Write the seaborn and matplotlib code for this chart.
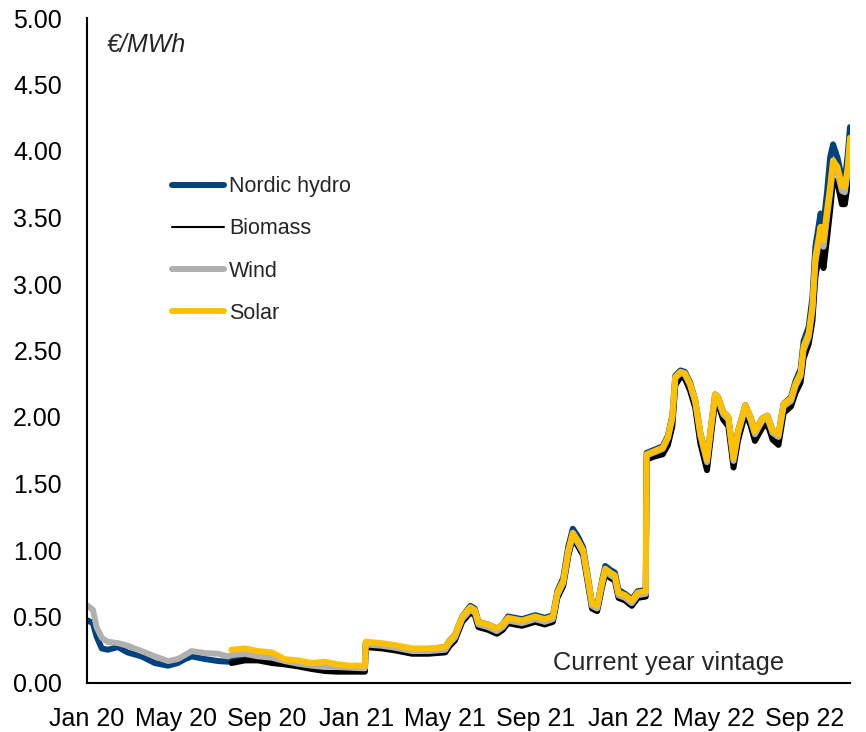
import pandas as pd
import seaborn as sns
import matplotlib.pyplot as plt
import matplotlib.dates as mdates
import matplotlib.ticker as mticker

# -----------------------------
# Data (EUR/MWh)
# -----------------------------
dates = [
    # 2020, before solar / biomass quotes
    "2020-01-02", "2020-01-09", "2020-01-14", "2020-01-21", "2020-01-29", "2020-02-12",
    "2020-02-25", "2020-03-15", "2020-04-02", "2020-04-20", "2020-05-03", "2020-05-13",
    "2020-05-22", "2020-06-09", "2020-06-27", "2020-07-10",
    # 2020 vintage, all four
    "2020-07-15", "2020-08-02", "2020-08-20", "2020-09-08", "2020-09-25", "2020-10-13",
    "2020-11-01", "2020-11-19", "2020-12-06", "2020-12-23", "2021-01-12",
    # 2021 vintage
    "2021-01-13", "2021-02-04", "2021-02-22", "2021-03-17", "2021-04-08", "2021-05-01",
    "2021-05-07", "2021-05-14", "2021-05-24", "2021-06-04", "2021-06-10", "2021-06-15",
    "2021-06-28", "2021-07-10", "2021-07-18", "2021-07-25", "2021-08-13", "2021-08-31",
    "2021-09-13", "2021-09-24", "2021-09-30", "2021-10-08", "2021-10-15", "2021-10-21",
    "2021-10-28", "2021-11-04", "2021-11-11", "2021-11-16", "2021-11-23", "2021-11-30",
    "2021-12-04", "2021-12-11", "2021-12-17", "2021-12-22", "2021-12-31", "2022-01-09",
    "2022-01-17", "2022-01-28",
    # 2022 vintage
    "2022-01-29", "2022-02-07", "2022-02-20", "2022-02-27", "2022-03-05", "2022-03-09",
    "2022-03-16", "2022-03-22", "2022-03-29", "2022-04-05", "2022-04-12", "2022-04-21",
    "2022-04-28", "2022-05-02", "2022-05-06", "2022-05-13", "2022-05-20", "2022-05-27",
    "2022-06-02", "2022-06-12", "2022-06-19", "2022-06-25", "2022-07-05", "2022-07-12",
    "2022-07-19", "2022-07-27", "2022-08-03", "2022-08-13", "2022-08-19", "2022-08-26",
    "2022-08-30", "2022-09-06", "2022-09-11", "2022-09-15", "2022-09-19", "2022-09-22",
    "2022-09-26", "2022-10-01", "2022-10-05", "2022-10-09", "2022-10-15", "2022-10-21",
    "2022-10-25", "2022-10-29", "2022-11-01",
]

nordic_hydro = [
    0.47, 0.45, 0.35, 0.26, 0.25, 0.27, 0.23, 0.20, 0.15, 0.13, 0.15, 0.18, 0.20, 0.18, 0.165, 0.16,
    0.19, 0.20, 0.19, 0.18, 0.15, 0.14, 0.125, 0.115, 0.115, 0.11, 0.105,
    0.30, 0.29, 0.28, 0.255, 0.255, 0.27, 0.32, 0.36, 0.50, 0.58, 0.56, 0.46, 0.44, 0.41, 0.44,
    0.50, 0.48, 0.51, 0.49, 0.51, 0.69, 0.79, 1.03, 1.16, 1.10, 1.02, 0.78, 0.60, 0.58, 0.78,
    0.88, 0.85, 0.83, 0.70, 0.67, 0.63, 0.69, 0.70,
    1.73, 1.75, 1.78, 1.86, 2.01, 2.31, 2.35, 2.34, 2.26, 2.13, 1.88, 1.68, 2.00, 2.17, 2.15,
    2.04, 2.00, 1.69, 1.89, 2.09, 2.00, 1.89, 1.99, 2.01, 1.90, 1.87, 2.10, 2.15, 2.27, 2.36,
    2.57, 2.68, 2.90, 3.28, 3.42, 3.53, 3.45, 3.70, 3.95, 4.05, 3.95, 3.80, 3.78, 3.98, 4.18,
]

biomass = [None] * 16 + [
    0.15, 0.17, 0.17, 0.15, 0.14, 0.125, 0.105, 0.09, 0.085, 0.085, 0.085,
    0.27, 0.26, 0.245, 0.22, 0.22, 0.23, 0.28, 0.32, 0.46, 0.53, 0.51, 0.42, 0.40, 0.37, 0.40,
    0.45, 0.43, 0.46, 0.44, 0.46, 0.64, 0.73, 0.96, 1.09, 1.03, 0.96, 0.73, 0.56, 0.54, 0.73,
    0.82, 0.79, 0.77, 0.64, 0.62, 0.58, 0.64, 0.65,
    1.68, 1.70, 1.72, 1.79, 1.93, 2.24, 2.30, 2.29, 2.20, 2.07, 1.80, 1.60, 1.93, 2.11, 2.10,
    1.98, 1.93, 1.62, 1.82, 2.03, 1.94, 1.82, 1.92, 1.95, 1.83, 1.79, 2.03, 2.08, 2.18, 2.26,
    2.44, 2.55, 2.72, 3.05, 3.18, 3.25, 3.12, 3.35, 3.55, 3.78, 3.76, 3.60, 3.60, 3.75, 4.04,
]

wind = [
    0.58, 0.55, 0.42, 0.34, 0.31, 0.30, 0.28, 0.24, 0.20, 0.165, 0.18, 0.21, 0.24, 0.225, 0.22, 0.20,
    0.21, 0.22, 0.20, 0.19, 0.165, 0.145, 0.13, 0.12, 0.12, 0.115, 0.11,
    0.29, 0.28, 0.265, 0.24, 0.24, 0.25, 0.30, 0.34, 0.48, 0.55, 0.53, 0.44, 0.42, 0.39, 0.42,
    0.47, 0.45, 0.48, 0.46, 0.48, 0.66, 0.75, 0.98, 1.11, 1.05, 0.98, 0.75, 0.58, 0.56, 0.75,
    0.84, 0.81, 0.79, 0.66, 0.64, 0.60, 0.66, 0.67,
    1.71, 1.73, 1.76, 1.84, 1.99, 2.29, 2.33, 2.32, 2.24, 2.11, 1.86, 1.66, 1.98, 2.15, 2.13,
    2.02, 1.98, 1.67, 1.87, 2.07, 1.98, 1.87, 1.97, 1.99, 1.88, 1.85, 2.08, 2.12, 2.23, 2.31,
    2.50, 2.60, 2.80, 3.16, 3.29, 3.38, 3.28, 3.51, 3.68, 3.88, 3.84, 3.70, 3.69, 3.84, 4.07,
]

solar = [None] * 16 + [
    0.25, 0.26, 0.24, 0.23, 0.18, 0.17, 0.15, 0.16, 0.14, 0.13, 0.13,
    0.31, 0.30, 0.285, 0.26, 0.26, 0.27, 0.32, 0.36, 0.50, 0.57, 0.55, 0.46, 0.44, 0.41, 0.44,
    0.49, 0.47, 0.50, 0.48, 0.50, 0.68, 0.77, 1.00, 1.13, 1.07, 1.00, 0.77, 0.60, 0.58, 0.77,
    0.86, 0.83, 0.81, 0.68, 0.66, 0.62, 0.68, 0.69,
    1.72, 1.74, 1.77, 1.85, 2.00, 2.30, 2.34, 2.33, 2.25, 2.13, 1.88, 1.68, 2.00, 2.17, 2.15,
    2.04, 2.00, 1.69, 1.89, 2.09, 2.00, 1.89, 1.99, 2.01, 1.90, 1.87, 2.10, 2.14, 2.25, 2.33,
    2.53, 2.63, 2.83, 3.20, 3.33, 3.43, 3.33, 3.56, 3.73, 3.93, 3.88, 3.74, 3.73, 3.88, 4.10,
]

series_names = ["Nordic hydro", "Biomass", "Wind", "Solar"]
series_colors = ["#00417F", "#000000", "#B0B0B0", "#FFC000"]
tick_dates = ["2020-01-01", "2020-05-01", "2020-09-01", "2021-01-01", "2021-05-01",
              "2021-09-01", "2022-01-01", "2022-05-01", "2022-09-01"]

# -----------------------------
# Build long table
# -----------------------------
df = pd.DataFrame({
    "date": pd.to_datetime(dates),
    "Nordic hydro": nordic_hydro,
    "Biomass": biomass,
    "Wind": wind,
    "Solar": solar,
})
long_df = df.melt(id_vars="date", var_name="series", value_name="price").dropna()

# -----------------------------
# Plot
# -----------------------------
sns.set_style("white")
plt.rcParams['font.family'] = ['Liberation Sans', 'DejaVu Sans']

W, H = 866, 732
fig = plt.figure(figsize=(W / 100, H / 100), dpi=100)
ax = fig.add_axes([87 / W, 1 - 683 / H, (850 - 87) / W, (683 - 18) / H])

sns.lineplot(data=long_df, x="date", y="price", hue="series",
             hue_order=series_names, palette=series_colors,
             estimator=None, lw=4.3, ax=ax)

ax.set_ylim(0, 5)
ax.set_yticks([i * 0.5 for i in range(11)])
ax.yaxis.set_major_formatter(mticker.FormatStrFormatter("%.2f"))
ax.set_xlim(pd.Timestamp("2020-01-01"), pd.Timestamp("2022-11-01"))
ax.set_xticks(pd.to_datetime(tick_dates))
ax.xaxis.set_major_formatter(mdates.DateFormatter("%b %y"))
ax.set_xlabel("")
ax.set_ylabel("")

ax.tick_params(axis="both", length=0, labelsize=18, labelcolor="black")
ax.tick_params(axis="x", pad=17)
ax.tick_params(axis="y", pad=18)

for side in ["top", "right"]:
    ax.spines[side].set_visible(False)
for side in ["left", "bottom"]:
    ax.spines[side].set_color("black")
    ax.spines[side].set_linewidth(1.5)

handles, labels = ax.get_legend_handles_labels()
leg = ax.legend(handles, labels, loc="center left",
                bbox_to_anchor=(172 / W, 1 - 250 / H), bbox_transform=fig.transFigure,
                frameon=False, fontsize=15.5, handlelength=2.4, handletextpad=0.25,
                labelspacing=0.98, borderpad=0, borderaxespad=0)
leg.get_lines()[1].set_linewidth(1.5)

fig.text(107 / W, 1 - 45 / H, "€/MWh", style="italic", fontsize=18, va="center", ha="left")
fig.text(669 / W, 1 - 663 / H, "Current year vintage", fontsize=18.3, va="center", ha="center")

fig.savefig("out.png", dpi=100)
plt.close(fig)
